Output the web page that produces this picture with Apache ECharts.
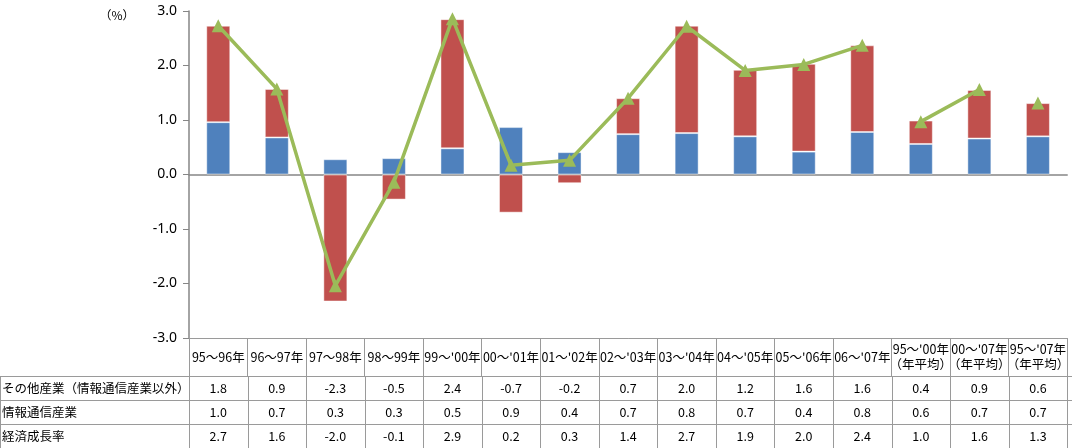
<!DOCTYPE html>
<html>
<head>
<meta charset="utf-8">
<script src="https://cdn.jsdelivr.net/npm/echarts@6/dist/echarts.min.js"></script>
<style>
html,body{margin:0;padding:0;background:#fff;}
#c{width:1072px;height:448px;}
</style>
</head>
<body>
<div id="c"></div>
<script>
// ---- data ----
var categories = ["95～96年","96～97年","97～98年","98～99年","99～'00年","00～'01年","01～'02年","02～'03年","03～'04年","04～'05年","05～'06年","06～'07年","95～'00年\n（年平均）","00～'07年\n（年平均）","95～'07年\n（年平均）"];
var otherIndustry = [1.77, 0.89, -2.33, -0.46, 2.37, -0.70, -0.16, 0.66, 1.97, 1.22, 1.61, 1.59, 0.43, 0.89, 0.61];
var ictIndustry   = [0.96, 0.68, 0.28, 0.30, 0.48, 0.87, 0.41, 0.74, 0.76, 0.70, 0.42, 0.78, 0.56, 0.66, 0.70];
var gdpGrowth     = [2.73, 1.57, -2.04, -0.14, 2.86, 0.17, 0.26, 1.40, 2.72, 1.91, 2.02, 2.37, 0.97, 1.56, 1.31];
var lineGroups = [[0, 11], [12, 13], [14, 14]];
var yTicks = [-3, -2, -1, 0, 1, 2, 3];
var rowNames = ["その他産業（情報通信産業以外）", "情報通信産業", "経済成長率"];
var unitLabel = "（%）";

// ---- chart ----
var FONT = "'Noto Sans CJK JP', 'Noto Sans', sans-serif";
var C_BLUE = '#4F81BD', C_RED = '#C0504D', C_GREEN = '#9BBB59', C_GRID = '#9a9a9a';
var chart = echarts.init(document.getElementById('c'), null, {renderer: 'canvas'});

var lineSeries = lineGroups.map(function (g) {
  return {
    type: 'line',
    xAxisIndex: 0,
    data: gdpGrowth.map(function (v, i) { return (i >= g[0] && i <= g[1]) ? v : null; }),
    symbol: 'triangle',
    symbolSize: 13,
    lineStyle: {color: C_GREEN, width: 3.5},
    itemStyle: {color: C_GREEN},
    connectNulls: false,
    z: 5,
    animation: false
  };
});

chart.setOption({
  animation: false,
  grid: {left: 189, right: 0, top: 11, bottom: 110, containLabel: false},
  xAxis: [
    {
      type: 'category', data: categories, position: 'bottom',
      axisLine: {onZero: true, lineStyle: {color: '#868686', width: 1.5}},
      axisTick: {show: false}, axisLabel: {show: false}, splitLine: {show: false}
    },
    {
      type: 'category', data: categories, position: 'bottom',
      axisLine: {onZero: false, show: true, lineStyle: {color: C_GRID, width: 1}},
      axisTick: {show: true, interval: 0, length: 38, inside: false, lineStyle: {color: C_GRID}},
      axisLabel: {show: true, interval: 0, margin: 19, verticalAlign: 'middle', color: '#000',
        fontFamily: FONT, fontSize: 12.5, lineHeight: 15},
      splitLine: {show: false}
    }
  ],
  yAxis: {
    type: 'value', min: -3, max: 3, interval: 1,
    axisLine: {show: true, lineStyle: {color: '#868686', width: 1.5}},
    axisTick: {show: true, length: 6, lineStyle: {color: '#868686'}},
    axisLabel: {color: '#000', fontSize: 14, fontFamily: "'Noto Sans', sans-serif", margin: 12,
      formatter: function (v) { return v.toFixed(1); }},
    splitLine: {show: false}
  },
  series: [
    {
      name: rowNames[1], type: 'bar', stack: 's', data: ictIndustry, barWidth: 24,
      itemStyle: {color: C_BLUE, borderColor: 'rgba(255,255,255,0.45)', borderWidth: 1}
    },
    {
      name: rowNames[0], type: 'bar', stack: 's', data: otherIndustry, barWidth: 24,
      itemStyle: {color: C_RED, borderColor: 'rgba(255,255,255,0.45)', borderWidth: 1}
    }
  ].concat(lineSeries)
});

// ---- data table drawn below the axis, aligned to category positions ----
function buildTable() {
  var cx = categories.map(function (c, i) { return chart.convertToPixel({xAxisIndex: 0}, i); });
  var step = cx[1] - cx[0];
  var yTop = Math.round(chart.convertToPixel({yAxisIndex: 0}, -3));
  var headerH = 38, rowH = 24;
  var bodyTop = yTop + headerH;
  var W = 1072;
  var els = [];
  function hl(y, x1, x2) {
    els.push({type: 'line', silent: true, shape: {x1: x1, y1: y + 0.5, x2: x2, y2: y + 0.5}, style: {stroke: C_GRID, lineWidth: 1}});
  }
  function vl(x, y1, y2) {
    var xx = Math.round(x) + 0.5;
    els.push({type: 'line', silent: true, shape: {x1: xx, y1: y1, x2: xx, y2: y2}, style: {stroke: C_GRID, lineWidth: 1}});
  }
  var rows = [otherIndustry, ictIndustry, gdpGrowth];
  var bottom = bodyTop + rowH * rows.length;
  for (var r = 0; r <= rows.length; r++) hl(bodyTop + r * rowH, 0, W);
  vl(0, bodyTop, bottom);
  for (var i = 0; i <= categories.length; i++) vl(cx[0] - step / 2 + i * step, bodyTop, bottom);
  rows.forEach(function (vals, r) {
    var yc = bodyTop + r * rowH + rowH / 2 + 0.5;
    els.push({type: 'text', silent: true, x: 2, y: yc,
      style: {text: rowNames[r], fill: '#000', fontFamily: FONT, fontSize: 12.5, align: 'left', verticalAlign: 'middle'}});
    vals.forEach(function (v, i) {
      els.push({type: 'text', silent: true, x: cx[i], y: yc,
        style: {text: v.toFixed(1), fill: '#000', fontFamily: FONT, fontSize: 12.5, align: 'center', verticalAlign: 'middle'}});
    });
  });
  els.push({type: 'text', silent: true, x: 117, y: 15,
    style: {text: unitLabel, fill: '#000', fontFamily: FONT, fontSize: 12, align: 'center', verticalAlign: 'middle'}});
  chart.setOption({graphic: {elements: els}});
}
buildTable();
</script>
</body>
</html>
